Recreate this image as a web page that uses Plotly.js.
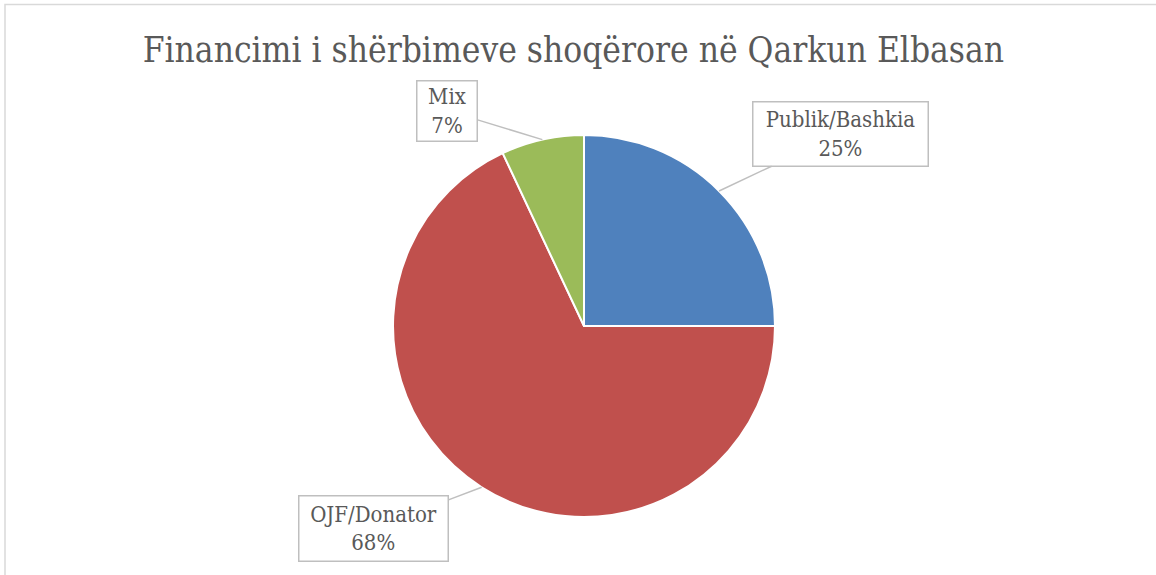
<!DOCTYPE html>
<html>
<head>
<meta charset="utf-8">
<script src="https://cdn.plot.ly/plotly-3.0.1.min.js"></script>
<style>html,body{margin:0;padding:0;background:#fff;}#chart{width:1156px;height:575px;}</style>
</head>
<body>
<div id="chart"></div>
<script>
const categories = ["Publik/Bashkia", "OJF/Donator", "Mix"];
const values = [25, 68, 7];
const colors = ["#4F81BD", "#C0504D", "#9BBB59"];
const titleText = "Financimi i shërbimeve shoqërore në Qarkun Elbasan";

const W = 1156, H = 575;
const dom = {x: [0.2457, 0.7647], y: [0.1009, 0.7652]};
// label box layout (offset px from arrow tip, and box size)
const boxes = [
  {ax: 121, ay: -57, w: 174, h: 63},
  {ax: -108, ay: 41, w: 148, h: 64},
  {ax: -95, ay: -29, w: 59, h: 59}
];

const total = values.reduce((a, b) => a + b, 0);
const cx = (dom.x[0] + dom.x[1]) / 2 * W;
const cyPaper = (dom.y[0] + dom.y[1]) / 2;
const rPx = Math.min((dom.x[1] - dom.x[0]) * W, (dom.y[1] - dom.y[0]) * H) / 2;

const annotations = [];
let cum = 0;
values.forEach((v, i) => {
  const mid = (cum + v / 2) / total * 2 * Math.PI; // clockwise from top
  cum += v;
  const px = cx + rPx * Math.sin(mid);
  const pyPaper = cyPaper + rPx * Math.cos(mid) / H;
  const pct = Math.round(v / total * 100) + "%";
  annotations.push({
    x: px / W, y: pyPaper, xref: "paper", yref: "paper",
    text: categories[i] + "<br>" + pct,
    showarrow: true, arrowhead: 0, arrowwidth: 1.5, arrowcolor: "#BFBFBF",
    ax: boxes[i].ax, ay: boxes[i].ay,
    bordercolor: "#BFBFBF", borderwidth: 1.5, bgcolor: "#FFFFFF",
    width: boxes[i].w, height: boxes[i].h, borderpad: 0, align: "center", valign: "middle",
    font: {family: "DejaVu Serif Condensed, DejaVu Serif, serif", size: 22, color: "#595959"}
  });
});

const data = [{
  type: "pie",
  labels: categories,
  values: values,
  sort: false,
  direction: "clockwise",
  rotation: 0,
  textinfo: "none",
  hoverinfo: "label+percent",
  marker: {colors: colors, line: {color: "#FFFFFF", width: 2}},
  domain: dom,
  showlegend: false
}];

const layout = {
  width: W, height: H,
  margin: {l: 0, r: 0, t: 0, b: 0},
  paper_bgcolor: "#FFFFFF",
  title: {
    text: titleText, x: 0.496, xanchor: "center", y: 1 - 50 / H, yanchor: "middle",
    yref: "container",
    font: {family: "DejaVu Serif Condensed, DejaVu Serif, serif", size: 35, color: "#595959"}
  },
  annotations: annotations,
  shapes: [{
    type: "rect", xref: "paper", yref: "paper",
    x0: 5 / W, x1: 1.01, y0: -0.01, y1: 1 - 4.5 / H,
    line: {color: "#D9D9D9", width: 1.5}
  }]
};

Plotly.newPlot("chart", data, layout, {displayModeBar: false, staticPlot: true});
</script>
</body>
</html>
